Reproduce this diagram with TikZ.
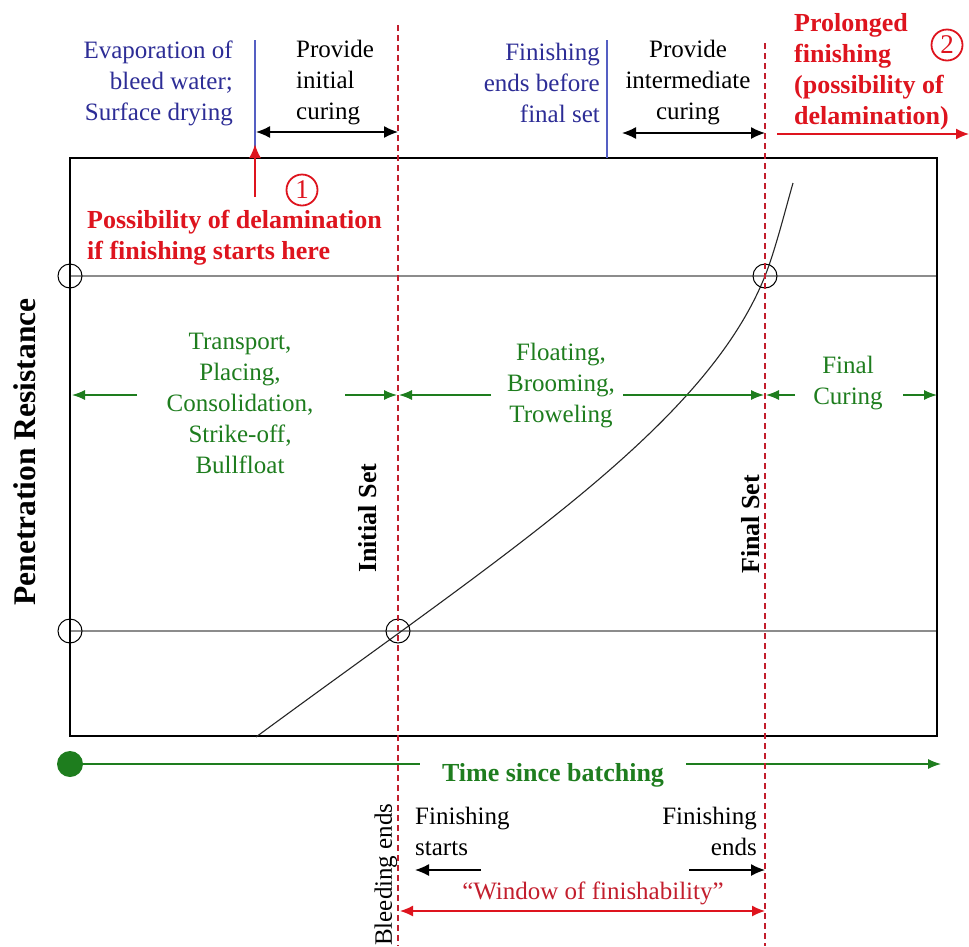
\documentclass[tikz,border=0pt]{standalone}
\usepackage{fontspec}
\setmainfont{Liberation Serif}
\usetikzlibrary{arrows.meta}
\definecolor{blueT}{RGB}{45,45,150}
\definecolor{blueL}{RGB}{85,95,195}
\definecolor{greenC}{RGB}{30,125,30}
\definecolor{redT}{RGB}{222,20,30}
\definecolor{darkred}{RGB}{195,30,45}
\begin{document}
\begin{tikzpicture}[x=1pt,y=-1pt,
  txt/.style={font=\fontsize{25}{31}\selectfont, inner sep=0pt},
  btxt/.style={font=\fontsize{26}{31}\selectfont\bfseries, inner sep=0pt},
  dashline/.style={draw=darkred, line width=1.4pt, dash pattern=on 6pt off 4pt},
  grayline/.style={draw=black!45, line width=1.3pt},
  ring/.style={circle, draw=black, line width=1pt, minimum size=24pt, inner sep=0pt},
  garrow/.style={draw=greenC, line width=1.2pt, -{Latex[length=13pt,width=10pt]}},
  barrow/.style={draw=black, line width=1.3pt, -{Latex[length=14pt,width=12pt]}},
  bdarrow/.style={draw=black, line width=1.3pt, {Latex[length=14pt,width=12pt]}-{Latex[length=14pt,width=12pt]}},
  rdarrow/.style={draw=redT, line width=1.4pt, {Latex[length=13pt,width=11pt]}-{Latex[length=13pt,width=11pt]}},
  rarrow/.style={draw=redT, line width=1.4pt, -{Latex[length=13pt,width=11pt]}},
  numring/.style={circle, draw=redT, line width=1.8pt, minimum size=31pt, inner sep=0pt, text=redT, font=\fontsize{27}{27}\selectfont},
  vlab/.style={font=\fontsize{26}{31}\selectfont\bfseries, inner sep=0pt, rotate=90, anchor=west}
]
\useasboundingbox (0,0) rectangle (969,946);
\fill[white] (0,0) rectangle (969,946);

% frame and reference lines
\coordinate (TL) at (70,158);
\coordinate (BR) at (937,736);
\coordinate (h1a) at (70,276);
\coordinate (h1b) at (937,276);
\coordinate (h2a) at (70,631);
\coordinate (h2b) at (937,631);
\draw[grayline] (h1a) -- (h1b);
\draw[grayline] (h2a) -- (h2b);
\draw[line width=1.8pt] (TL) rectangle (BR);

% curve
\draw[line width=1.1pt, black!85] (256,737) .. controls (506,553) and (705,426) .. (765,276)
  .. controls (775,251) and (785,211) .. (793,183);

% rings
\node[ring] (r1) at (70,276) {};
\node[ring] (r2) at (70,631) {};
\node[ring] (r3) at (398,631) {};
\node[ring] (r4) at (765,276) {};

% dashed set lines
\coordinate (d1t) at (398,25);
\coordinate (d1b) at (398,946);
\coordinate (d2t) at (765,43);
\coordinate (d2b) at (765,946);

% top annotations
\coordinate (bl1t) at (255,40);
\coordinate (bl1b) at (255,150);
\draw[blueL, line width=1.4pt] (bl1t) -- (bl1b);
\coordinate (bl2t) at (607,40);
\coordinate (bl2b) at (607,158);
\draw[blueL, line width=1.4pt] (bl2t) -- (bl2b);

\node[txt, text=blueT, align=right, anchor=east] (evap) at (233,83)
  {Evaporation of\\bleed water;\\Surface drying};
\node[txt, align=left, anchor=west] (prov1) at (296,83)
  {Provide\\initial\\curing};
\node[txt, text=blueT, align=right, anchor=east] (finend) at (600,83)
  {Finishing\\ends before\\final set};
\node[txt, align=center] (prov2) at (688,83)
  {Provide\\intermediate\\curing};
\node[btxt, text=redT, align=left, anchor=west] (prolong) at (794,72)
  {Prolonged\\finishing\\(possibility of\\delamination)};
\node[numring] (n2) at (947,45) {2};

\coordinate (pa) at (256,132);
\coordinate (pb) at (398,132);
\draw[bdarrow] (pa) -- (pb);
\coordinate (qa) at (622,133);
\coordinate (qb) at (765,133);
\draw[bdarrow] (qa) -- (qb);
\coordinate (ra) at (777,134);
\coordinate (rb) at (969,134);
\draw[rarrow] (ra) -- (rb);

\coordinate (ua) at (255,197);
\coordinate (ub) at (255,144);
\draw[draw=redT, line width=2.2pt, -{Latex[length=14pt,width=12pt]}] (ua) -- (ub);
\node[numring] (n1) at (302,190) {1};
\node[btxt, text=redT, align=left, anchor=west] (possib) at (87,238)
  {Possibility of delamination\\if finishing starts here};

% green phase labels
\node[txt, text=greenC, align=center] (phase1) at (240,403)
  {Transport,\\Placing,\\Consolidation,\\Strike-off,\\Bullfloat};
\node[txt, text=greenC, align=center] (phase2) at (561,386)
  {Floating,\\Brooming,\\Troweling};
\node[txt, text=greenC, align=center] (phase3) at (848,383)
  {Final\\Curing};

\coordinate (g1a) at (137,395); \coordinate (g1b) at (72,395);
\coordinate (g2a) at (345,395); \coordinate (g2b) at (397,395);
\coordinate (g3a) at (491,395); \coordinate (g3b) at (399,395);
\coordinate (g4a) at (623,395); \coordinate (g4b) at (764,395);
\coordinate (g5a) at (795,395); \coordinate (g5b) at (766,395);
\coordinate (g6a) at (903,395); \coordinate (g6b) at (937,395);
\draw[garrow] (g1a) -- (g1b);
\draw[garrow] (g2a) -- (g2b);
\draw[garrow] (g3a) -- (g3b);
\draw[garrow] (g4a) -- (g4b);
\draw[garrow] (g5a) -- (g5b);
\draw[garrow] (g6a) -- (g6b);

% vertical labels
\node[font=\fontsize{31.5}{36}\selectfont\bfseries, rotate=90, inner sep=0pt] (ylab) at (25,452)
  {Penetration Resistance};
\node[vlab] (iset) at (368,573) {Initial Set};
\node[vlab] (fset) at (751,574) {Final Set};

% time axis
\node[circle, fill=greenC, minimum size=26pt, inner sep=0pt] (dot) at (70,764) {};
\coordinate (tend) at (941,764);
\draw[draw=greenC, line width=1.3pt, -{Latex[length=13pt,width=10pt]}] (dot) -- (tend);
\node[btxt, text=greenC, fill=white, inner xsep=22pt, inner ysep=11pt] (time) at (553,775)
  {Time since batching};

% dashed lines (drawn over)
\draw[dashline] (d1t) -- (d1b);
\draw[dashline] (d2t) -- (d2b);

% bottom annotations
\node[font=\fontsize{25}{31}\selectfont, inner sep=0pt, rotate=90, anchor=west] (bleed) at (386,946)
  {Bleeding ends};
\node[txt, align=left, anchor=west] (fstart) at (415,831) {Finishing\\starts};
\node[txt, align=right, anchor=east] (fends) at (757,831) {Finishing\\ends};
\coordinate (ka) at (481,870); \coordinate (kb) at (415,870);
\coordinate (la) at (689,870); \coordinate (lb) at (765,870);
\draw[barrow] (ka) -- (kb);
\draw[barrow] (la) -- (lb);
\node[txt, text=darkred] (window) at (593,893) {“Window of finishability”};
\coordinate (wa) at (400,911); \coordinate (wb) at (765,911);
\draw[rdarrow] (wa) -- (wb);
\end{tikzpicture}
\end{document}
